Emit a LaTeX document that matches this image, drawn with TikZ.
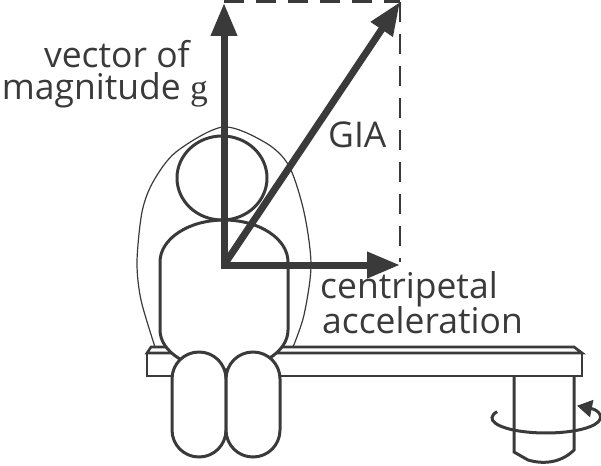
\documentclass[tikz,border=0pt]{standalone}
\usepackage{fontspec}
\usetikzlibrary{arrows.meta}
\newfontfamily\labelfont{Open Sans}
\newfontfamily\serifg{Liberation Serif}
\definecolor{ink}{HTML}{3A3A3A}
\tikzset{
  outline/.style={draw=ink, line width=3pt},
  thinline/.style={draw=ink, line width=1.2pt},
  vec/.style={draw=ink, line width=7pt, line cap=rect, -{Triangle[length=33pt,width=25pt]}},
  guide/.style={draw=ink, line width=1.3pt, dash pattern=on 20pt off 12pt},
  lbl/.style={font=\labelfont\fontsize{35.5}{30}\selectfont, text=ink, inner sep=0pt}
}
\begin{document}
\begin{tikzpicture}[x=1pt,y=-1pt]
  \useasboundingbox (0,0) rectangle (601,465);
  % post under the bench
  \draw[outline] (514,376) -- (514,452) -- (528,460) .. controls (545,465) and (562,462) .. (574,450) -- (574,376);
  % bench
  \draw[outline, line width=2.6pt, fill=white] (147,353) rectangle (582,376);
  \draw[outline, line width=2.6pt, fill=white] (147,353) -- (151,347) -- (574,347) -- (582,353) -- cycle;
  % thin outline round the person
  \draw[thinline] plot[smooth] coordinates {(155,347) (141,300) (137,262) (142,212) (153,182) (176,152) (223,127) (266,143) (289,166) (304,212) (311,265) (304,315) (293,347)};
  % body, head, legs
  \draw[outline, fill=white] (160,330) -- (160,262) arc[start angle=180, end angle=360, x radius=64, y radius=42] -- (288,330) arc[start angle=0, end angle=180, x radius=64, y radius=40] -- cycle;
  \draw[outline] (222,178) ellipse[x radius=45, y radius=42];
  \draw[outline, fill=white, rounded corners=26.9pt] (172,352) rectangle (226,457);
  \draw[outline, fill=white, rounded corners=26.9pt] (226,352) rectangle (280,457);
  % turning
  \draw[outline, -{Triangle[length=15pt,width=17pt]}] (546,418) ++(205:54 and 15) arc[start angle=205, end angle=-55, x radius=54, y radius=15];
  % vectors
  \coordinate (o) at (224,265);
  \coordinate (gtip) at (224,3);
  \coordinate (atip) at (400,265);
  \coordinate (giatip) at (400,2);
  \draw[guide, line width=3pt] (gtip) ++(0,-1.5) -- (400,1.5);
  \draw[guide] (giatip) -- (400,262);
  \draw[vec] (o) -- (gtip);
  \draw[vec] (o) -- (atip);
  \draw[vec, line cap=butt] (o) -- (giatip);
  % labels
  \node[lbl, align=right, anchor=base east] (gvec) at (208,100) {vector of\hspace*{18pt}\\[2pt]magnitude {\serifg g}};
  \node[lbl, anchor=base west] (gia) at (328,147) {GIA};
  \node[lbl, align=left, anchor=base west] (acc) at (320,333) {centripetal\\[-2pt]\hspace*{2pt}acceleration};
\end{tikzpicture}
\end{document}
